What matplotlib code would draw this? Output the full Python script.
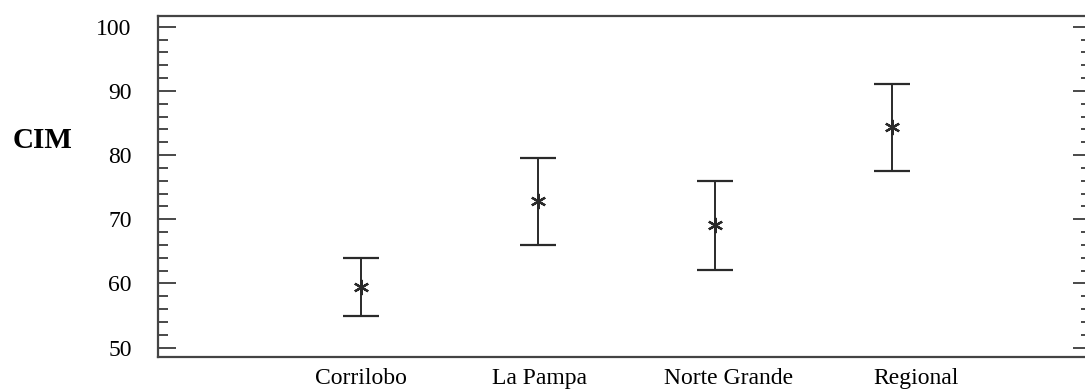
import numpy as np
import matplotlib
matplotlib.use("Agg")
import matplotlib.pyplot as plt
from matplotlib.ticker import MultipleLocator

plt.rcParams['font.family'] = ['Liberation Serif', 'DejaVu Serif']

sites = ["Corrilobo", "La Pampa", "Norte Grande", "Regional"]
means = [59.4, 72.8, 69.05, 84.3]
upper = [63.9, 79.5, 76.0, 91.1]
lower = [54.9, 66.0, 62.05, 77.6]
label_pos = [1.0, 2.01, 3.08, 4.14]

x = np.arange(1, len(sites) + 1)
means = np.array(means)
yerr = [means - np.array(lower), np.array(upper) - means]

fig = plt.figure(figsize=(10.85, 3.9), dpi=100)
ax = fig.add_axes([158 / 1085, 1 - 357.3 / 390, (1091 - 158) / 1085, (357.3 - 16) / 390])

dark = "#2a2a2a"
ax.errorbar(x, means, yerr=yerr, fmt="none", ecolor=dark, elinewidth=1.4,
            capsize=13, capthick=1.6)
ax.plot(x, means, linestyle="none", marker=(6, 2, 0), markersize=11,
        markeredgewidth=1.6, color=dark)

ax.set_xlim(-0.1475, 5.127)
ax.set_ylim(48.5, 101.67)

ax.set_xticks(label_pos)
ax.set_xticklabels(sites, fontsize=17)
ax.tick_params(axis="x", length=0, pad=8)

ax.yaxis.set_major_locator(MultipleLocator(10))
ax.yaxis.set_minor_locator(MultipleLocator(2))
ax.tick_params(axis="y", which="major", direction="in", length=13, width=1.2,
               colors=dark, labelsize=17, pad=19, right=True)
ax.tick_params(axis="y", which="minor", direction="in", length=7, width=1.2,
               colors=dark, right=True)
ax.tick_params(axis="y", labelcolor="black")

for s in ax.spines.values():
    s.set_color("#444444")
    s.set_linewidth(1.6)

ax.set_ylabel("CIM", fontsize=21, fontweight="bold", rotation=0, labelpad=0)
ax.yaxis.set_label_coords(-0.124, 0.596)

fig.savefig("out.png", dpi=100)
